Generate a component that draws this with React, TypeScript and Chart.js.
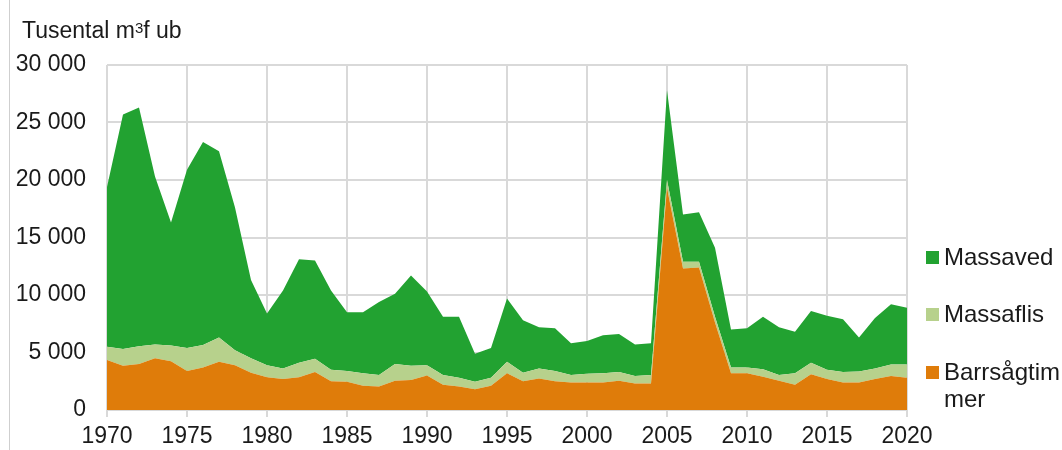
import React, { useEffect, useRef } from 'react';
import { Chart, registerables } from 'chart.js';

Chart.register(...registerables);

const years = [
  1970, 1971, 1972, 1973, 1974, 1975, 1976, 1977, 1978, 1979,
  1980, 1981, 1982, 1983, 1984, 1985, 1986, 1987, 1988, 1989,
  1990, 1991, 1992, 1993, 1994, 1995, 1996, 1997, 1998, 1999,
  2000, 2001, 2002, 2003, 2004, 2005, 2006, 2007, 2008, 2009,
  2010, 2011, 2012, 2013, 2014, 2015, 2016, 2017, 2018, 2019,
  2020,
];

const barrsagtimmer = [
  4350, 3850, 4000, 4500, 4250, 3400, 3700, 4200, 3900, 3250,
  2850, 2700, 2850, 3300, 2500, 2450, 2100, 2050, 2550, 2600,
  3000, 2200, 2050, 1800, 2100, 3200, 2500, 2750, 2500, 2400,
  2400, 2400, 2550, 2300, 2300, 19300, 12300, 12400, 7600, 3200,
  3200, 2900, 2550, 2200, 3100, 2700, 2400, 2400, 2700, 2950,
  2800,
];

const massaflis = [
  1150, 1450, 1550, 1200, 1350, 2000, 1950, 2100, 1300, 1250,
  1050, 900, 1250, 1150, 1000, 950, 1100, 1000, 1450, 1250,
  900, 850, 750, 650, 700, 1000, 750, 850, 900, 650,
  750, 800, 750, 650, 750, 700, 600, 500, 500, 500,
  500, 650, 500, 1000, 1000, 800, 900, 950, 900, 1000,
  1150,
];

const massaved = [
  13900, 20400, 20750, 14600, 10700, 15500, 17650, 16200, 12400, 6800,
  4500, 6800, 9000, 8550, 6900, 5100, 5300, 6350, 6100, 7850,
  6400, 5050, 5300, 2450, 2600, 5500, 4550, 3600, 3700, 2750,
  2850, 3300, 3300, 2750, 2750, 7800, 4100, 4300, 6000, 3300,
  3400, 4550, 4150, 3600, 4500, 4700, 4600, 2950, 4400, 5250,
  4950,
];

const seriesNames = ['Barrsågtimmer', 'Massaflis', 'Massaved'];
const seriesColors = ['#DF7C0A', '#B7D18C', '#22A231'];
const legendOrder = [2, 1, 0];

const xTickLabels = [1970, 1975, 1980, 1985, 1990, 1995, 2000, 2005, 2010, 2015, 2020];
const yTickLabels = [0, 5000, 10000, 15000, 20000, 25000, 30000];

const FONT = "'Liberation Sans', Arial, sans-serif";
const GRID = '#d9d9d9';

function fmtThousands(v: number): string {
  return String(v).replace(/\B(?=(\d{3})+(?!\d))/g, ' ');
}

export default function App() {
  const canvasRef = useRef<HTMLCanvasElement | null>(null);

  useEffect(() => {
    const canvas = canvasRef.current;
    if (!canvas) return;
    const allSeries = [barrsagtimmer, massaflis, massaved];
    const chart = new Chart(canvas, {
      type: 'line',
      data: {
        datasets: allSeries.map((vals, i) => ({
          label: seriesNames[i],
          data: vals.map((v, j) => ({ x: years[j], y: v })),
          backgroundColor: seriesColors[i],
          borderColor: seriesColors[i],
          borderWidth: 0,
          pointRadius: 0,
          tension: 0,
          fill: i === 0 ? 'origin' : '-1',
        })),
      },
      options: {
        responsive: false,
        animation: false,
        layout: { padding: { top: 65, right: 155, left: 0, bottom: 0 } },
        plugins: {
          legend: { display: false },
          tooltip: { enabled: false },
          title: { display: false },
        },
        scales: {
          x: {
            type: 'linear',
            min: xTickLabels[0],
            max: xTickLabels[xTickLabels.length - 1],
            afterBuildTicks: (scale: any) => {
              scale.ticks = xTickLabels.map((v) => ({ value: v }));
            },
            afterFit: (scale: any) => {
              scale.height = 40;
            },
            border: { display: false },
            grid: {
              color: GRID,
              lineWidth: 2,
              drawTicks: true,
              tickLength: 7,
              tickColor: GRID,
            },
            ticks: {
              color: '#1a1a1a',
              font: { family: FONT, size: 23 },
              padding: 6,
              maxRotation: 0,
              autoSkip: false,
              callback: (v: any) => String(v),
            },
          },
          y: {
            stacked: true,
            min: yTickLabels[0],
            max: yTickLabels[yTickLabels.length - 1],
            afterBuildTicks: (scale: any) => {
              scale.ticks = yTickLabels.map((v) => ({ value: v }));
            },
            afterFit: (scale: any) => {
              scale.width = 107;
            },
            border: { display: false },
            grid: {
              color: GRID,
              lineWidth: 2,
              drawTicks: false,
            },
            ticks: {
              color: '#1a1a1a',
              font: { family: FONT, size: 23 },
              padding: 21,
              callback: (v: any) => fmtThousands(Number(v)),
            },
          },
        },
      },
    });
    return () => chart.destroy();
  }, []);

  return (
    <div style={{ position: 'fixed', left: 0, top: 0, width: 1062, height: 450, background: '#fff', fontFamily: FONT, color: '#1a1a1a' }}>
      <div style={{ position: 'absolute', left: 9, top: 0, width: 1, height: 450, background: '#cfcfcf' }} />
      <canvas ref={canvasRef} width={1062} height={450} style={{ position: 'absolute', left: 0, top: 0, width: 1062, height: 450 }} />
      <div style={{ position: 'absolute', left: 22, top: 19, fontSize: 23, lineHeight: '23px', whiteSpace: 'nowrap' }}>
        Tusental m<sup style={{ fontSize: 15, verticalAlign: 'top', position: 'relative', top: -3 }}>3</sup>f ub
      </div>
      {legendOrder.map((idx, k) => {
        const tops = [243, 299.5, 357.5];
        return (
          <div key={idx} style={{ position: 'absolute', left: 926, top: tops[k], width: 136 }}>
            <div style={{ position: 'absolute', left: 0, top: 8, width: 13, height: 13, background: seriesColors[idx] }} />
            <div style={{ position: 'absolute', left: 18, top: 0, width: 118, fontSize: 24, lineHeight: '27px', wordBreak: 'break-all' }}>
              {seriesNames[idx]}
            </div>
          </div>
        );
      })}
    </div>
  );
}
